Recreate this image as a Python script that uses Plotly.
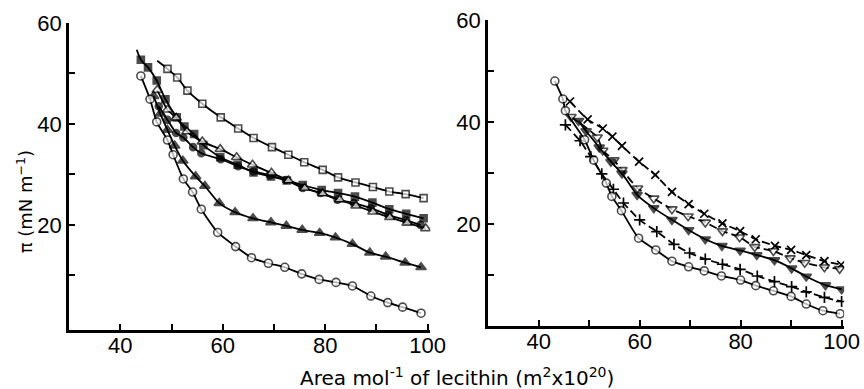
import plotly.graph_objects as go

# ---------------- Left panel data ----------------
L_sqo_x = [47.2, 49.2, 51.1, 53.1, 56.0, 59.6, 63.0, 66.0, 69.6, 72.8, 75.9, 79.5, 82.5, 85.9, 89.3, 92.5, 95.7, 99.2]
L_sqo_y = [52.5, 50.9, 49.2, 46.6, 44.0, 41.3, 39.1, 37.2, 35.4, 33.9, 32.4, 30.9, 29.4, 28.4, 27.5, 26.6, 26.1, 25.3]

L_sqf_x = [43.2, 44.0, 45.4, 47.1, 48.8, 51.0, 52.5, 54.4, 56.2, 59.5, 62.9, 66.0, 69.4, 72.5, 75.6, 79.3, 82.5, 85.8, 89.2, 92.5, 95.8, 99.2]
L_sqf_y = [54.7, 52.7, 51.2, 48.6, 44.9, 41.3, 39.5, 38.0, 35.8, 33.4, 31.9, 30.4, 29.6, 28.8, 27.9, 26.9, 26.3, 25.6, 24.4, 23.1, 22.2, 21.3]

L_cf_x = [47.5, 49.2, 50.9, 52.3, 54.2, 55.8, 59.6, 63.0, 66.0, 69.2, 72.3, 75.6, 79.1, 82.4, 85.6, 88.9, 92.3, 95.8, 98.6]
L_cf_y = [43.5, 40.8, 38.2, 37.3, 35.4, 34.2, 33.0, 31.6, 30.6, 29.8, 28.9, 27.3, 26.3, 25.0, 24.3, 23.3, 22.0, 20.9, 20.0]

L_to_x = [47.2, 49.2, 50.9, 53.0, 56.0, 59.5, 62.7, 65.8, 69.5, 72.8, 76.0, 79.5, 82.8, 86.0, 89.3, 92.6, 96.0, 99.6]
L_to_y = [46.7, 42.8, 41.2, 38.5, 36.5, 35.0, 33.4, 31.9, 30.3, 28.8, 27.3, 26.2, 25.0, 23.8, 22.6, 21.5, 20.4, 19.3]

L_tf_x = [46.5, 47.8, 49.2, 50.6, 52.2, 54.7, 56.5, 59.3, 62.4, 65.9, 69.4, 72.4, 75.5, 78.9, 82.0, 85.3, 88.7, 91.8, 95.6, 98.7]
L_tf_y = [45.5, 42.0, 38.8, 35.7, 32.7, 29.6, 27.7, 24.3, 22.5, 21.3, 20.5, 19.8, 19.0, 18.4, 17.5, 16.2, 14.5, 13.7, 12.5, 11.6]

L_co_x = [44.0, 45.8, 47.1, 49.2, 50.3, 52.3, 54.1, 55.8, 59.0, 62.5, 65.6, 68.9, 72.1, 75.4, 78.8, 82.1, 85.3, 88.9, 92.2, 95.1, 98.7]
L_co_y = [49.5, 44.9, 40.4, 36.8, 33.9, 29.1, 26.5, 23.1, 18.5, 15.7, 13.5, 12.4, 11.6, 10.3, 9.2, 8.6, 7.9, 5.9, 4.6, 3.7, 2.5]

# ---------------- Right panel data ----------------
R_x_x = [46.2, 49.7, 52.7, 54.6, 56.5, 59.9, 63.1, 66.4, 69.7, 72.8, 76.4, 79.9, 83.0, 86.8, 90.0, 93.0, 96.6, 99.9]
R_x_y = [44.0, 40.5, 38.7, 37.1, 35.3, 32.2, 29.6, 26.3, 23.9, 22.0, 20.1, 18.6, 17.0, 15.7, 14.9, 13.9, 12.7, 12.0]

R_tdo_x = [46.4, 51.6, 52.7, 54.9, 56.5, 59.6, 62.8, 66.4, 69.6, 73.0, 76.4, 79.8, 82.8, 86.5, 89.8, 92.7, 96.6, 99.6]
R_tdo_y = [41.0, 37.0, 34.4, 32.5, 30.6, 27.0, 25.0, 22.9, 21.5, 20.3, 18.6, 17.4, 15.5, 14.7, 13.3, 12.4, 11.5, 11.2]

R_tdf_x = [47.9, 49.4, 52.0, 54.3, 56.5, 59.5, 62.8, 66.4, 69.7, 73.0, 76.3, 79.9, 83.2, 86.7, 90.1, 93.0, 96.8, 100.0]
R_tdf_y = [40.2, 38.2, 35.0, 32.2, 29.9, 25.7, 23.1, 20.8, 18.8, 17.0, 15.7, 14.8, 13.9, 12.9, 11.3, 9.7, 8.0, 7.2]

R_p_x = [45.3, 48.2, 50.3, 52.5, 54.8, 56.8, 60.0, 63.4, 66.8, 69.9, 73.0, 76.4, 79.9, 83.3, 86.7, 90.1, 93.0, 96.6, 100.0]
R_p_y = [39.4, 36.3, 33.2, 29.8, 26.8, 24.1, 20.8, 18.5, 16.0, 14.3, 13.1, 12.1, 11.1, 9.8, 8.7, 7.7, 6.7, 5.6, 4.8]

R_co_x = [43.2, 44.8, 45.3, 49.1, 50.9, 53.4, 54.5, 56.4, 59.8, 63.2, 66.4, 69.7, 72.8, 76.2, 80.0, 83.0, 86.5, 90.0, 93.0, 96.3, 99.7]
R_co_y = [48.0, 44.5, 42.2, 36.5, 32.5, 28.0, 25.4, 22.6, 17.2, 14.9, 12.7, 11.6, 10.8, 9.8, 9.0, 7.9, 6.9, 5.8, 4.3, 3.0, 2.4]

x_tickvals = [40, 60, 80, 100]
x_ticktext = ["40", "60", "80", "100"]
x_minor = [50, 70, 90]
y_tickvals = [20, 40, 60]
y_ticktext = ["20", "40", "60"]
y_minor = [10, 30, 50]

fig = go.Figure()

def add(x, y, symbol, filled, xa, ya, dash="solid", size=8, first_blank=False):
    sizes = [size] * len(x)
    if first_blank:
        sizes[0] = 0
    if symbol in ("x-thin", "cross-thin"):
        marker = dict(symbol=symbol, size=size, color="black",
                      line=dict(color="black", width=1.7))
    else:
        marker = dict(symbol=symbol, size=sizes,
                      color="black" if filled else "white",
                      line=dict(color="black", width=1.6))
    fig.add_trace(go.Scatter(x=x, y=y, mode="lines+markers", xaxis=xa, yaxis=ya,
                             line=dict(color="black", width=1.8, dash=dash,
                                       shape="spline", smoothing=0.6),
                             marker=marker, showlegend=False, hoverinfo="skip"))

# left panel
add(L_sqo_x, L_sqo_y, "square", False, "x", "y", size=7, first_blank=True)
add(L_sqf_x, L_sqf_y, "square", True, "x", "y", size=7, first_blank=True)
add(L_cf_x, L_cf_y, "circle", True, "x", "y", size=7)
add(L_to_x, L_to_y, "triangle-up", False, "x", "y", size=9)
add(L_tf_x, L_tf_y, "triangle-up", True, "x", "y", size=9)
add(L_co_x, L_co_y, "circle", False, "x", "y", size=8)

# right panel
add(R_x_x, R_x_y, "x-thin", True, "x2", "y2", dash="8px,4px", size=8)
add(R_tdo_x, R_tdo_y, "triangle-down", False, "x2", "y2", dash="8px,4px", size=9)
add(R_tdf_x, R_tdf_y, "triangle-down", True, "x2", "y2", size=9)
add(R_p_x, R_p_y, "cross-thin", True, "x2", "y2", dash="8px,4px", size=8)
add(R_co_x, R_co_y, "circle", False, "x2", "y2", size=8)

FONT = "DejaVu Sans, Liberation Sans, Arial, sans-serif"
axis_font = dict(family="Liberation Sans, Arial, sans-serif", size=22, color="black")
minor_base = dict(ticks="inside", ticklen=6, tickwidth=1.5, tickcolor="black", showgrid=False)

xcommon = dict(range=[30, 100.5], tickvals=x_tickvals, ticktext=x_ticktext,
               ticks="inside", ticklen=6, tickwidth=1.5, tickcolor="black",
               showline=True, linecolor="black", linewidth=2.5, showgrid=False,
               zeroline=False, tickfont=axis_font, automargin=False,
               ticklabelstandoff=-6, minor=dict(minor_base, tickvals=x_minor))
ycommon = dict(tickvals=y_tickvals, ticktext=y_ticktext,
               ticks="inside", ticklen=6, tickwidth=1.5, tickcolor="black",
               showline=True, linecolor="black", linewidth=3, showgrid=False,
               zeroline=False, tickfont=axis_font, automargin=False,
               minor=dict(minor_base, tickvals=y_minor))

fig.update_layout(
    width=864, height=389,
    margin=dict(l=0, r=0, t=0, b=0),
    paper_bgcolor="white", plot_bgcolor="white",
    xaxis=dict(domain=[0.080, 0.498], anchor="y", **xcommon),
    yaxis=dict(domain=[0.152, 0.941], anchor="x", range=[-0.8, 60], **ycommon),
    xaxis2=dict(domain=[0.565, 0.977], anchor="y2", **xcommon),
    yaxis2=dict(domain=[0.162, 0.949], anchor="x2", range=[0, 60], **ycommon),
    annotations=[
        dict(text="π (mN m<sup>−1</sup>)", x=0.029, y=0.48, xref="paper", yref="paper",
             textangle=-90, showarrow=False, xanchor="center", yanchor="middle",
             font=dict(family=FONT, size=18, color="black")),
        dict(text="Area mol<sup>-1</sup> of lecithin (m<sup>2</sup>x10<sup>20</sup>)",
             x=457 / 864, y=0.03, xref="paper", yref="paper", showarrow=False,
             xanchor="center", yanchor="middle",
             font=dict(family=FONT, size=20, color="black")),
    ],
)

fig.write_html("out.html", config={"displayModeBar": False},
               post_script="document.body.style.margin='0';document.body.style.padding='0';")
